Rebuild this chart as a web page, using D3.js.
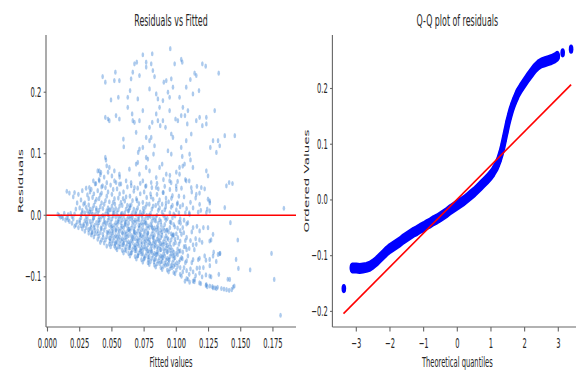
<!DOCTYPE html>
<html>
<head>
<meta charset="utf-8">
<script src="https://cdn.jsdelivr.net/npm/d3@7"></script>
<style>
  html, body { margin: 0; padding: 0; background: #fff; }
  svg { display: block; }
  text { font-family: "DejaVu Sans", sans-serif; fill: #262626; }
</style>
</head>
<body>
<div id="chart"></div>
<script>
// Residuals vs fitted as [fitted, residual]
// dense body of the cloud, roughly column by column
const corePoints = [
  [0.008,0.002],[0.009,0.000],[0.011,-0.002],[0.012,-0.005],[0.013,0.003],[0.010,-0.003],
  [0.014,-0.008],[0.015,-0.004],[0.016,0.001],[0.017,-0.010],[0.015,0.039],[0.017,0.036],[0.016,-0.007],[0.018,0.003],
  [0.019,-0.013],[0.020,-0.006],[0.021,0.002],[0.022,-0.016],[0.020,0.030],[0.021,0.037],[0.022,0.010],[0.019,-0.002],[0.023,-0.011],[0.023,0.020],[0.021,-0.018],
  [0.024,-0.020],[0.025,-0.012],[0.026,-0.004],[0.027,0.004],[0.025,0.012],[0.026,0.025],[0.027,-0.022],[0.024,0.034],[0.028,-0.015],[0.026,0.001],[0.027,0.040],[0.025,-0.008],[0.028,0.018],[0.026,-0.017],[0.027,0.008],
  [0.029,-0.026],[0.030,-0.020],[0.031,-0.014],[0.029,-0.009],[0.030,-0.003],[0.032,0.002],[0.031,0.007],[0.030,0.013],[0.029,0.020],[0.032,0.027],[0.031,0.033],[0.030,0.044],[0.032,-0.029],[0.033,-0.022],[0.033,-0.010],[0.028,-0.017],[0.033,0.010],[0.031,-0.006],[0.032,0.017],[0.029,0.004],[0.033,0.038],
  [0.034,-0.032],[0.035,-0.027],[0.036,-0.020],[0.034,-0.015],[0.035,-0.009],[0.036,-0.004],[0.037,0.001],[0.034,0.005],[0.035,0.011],[0.036,0.016],[0.037,0.022],[0.035,0.029],[0.036,0.035],[0.034,0.042],[0.037,0.051],[0.036,-0.035],[0.037,-0.024],[0.038,-0.012],[0.038,0.008],[0.034,-0.020],[0.037,-0.030],[0.035,0.002],[0.038,0.026],
  [0.039,-0.039],[0.040,-0.034],[0.041,-0.028],[0.042,-0.022],[0.039,-0.017],[0.040,-0.012],[0.041,-0.007],[0.042,-0.002],[0.039,0.003],[0.040,0.008],[0.041,0.014],[0.042,0.020],[0.040,0.027],[0.041,0.033],[0.039,0.040],[0.042,0.046],[0.040,0.058],[0.041,0.066],[0.039,0.072],[0.042,-0.040],[0.043,-0.031],[0.043,-0.015],[0.043,0.000],[0.043,0.011],[0.039,-0.025],[0.041,-0.044],[0.042,0.036],[0.040,-0.003],
  [0.044,-0.045],[0.045,-0.040],[0.046,-0.035],[0.047,-0.029],[0.044,-0.024],[0.045,-0.019],[0.046,-0.013],[0.047,-0.008],[0.044,-0.003],[0.045,0.002],[0.046,0.007],[0.047,0.012],[0.044,0.018],[0.045,0.024],[0.046,0.031],[0.047,0.038],[0.045,0.045],[0.046,0.053],[0.044,0.062],[0.047,0.070],[0.048,-0.047],[0.048,-0.037],[0.048,-0.026],[0.048,-0.016],[0.048,-0.004],[0.048,0.009],[0.048,0.022],[0.046,-0.050],[0.044,-0.010],[0.047,0.001],
  [0.049,-0.051],[0.050,-0.046],[0.051,-0.041],[0.052,-0.036],[0.049,-0.031],[0.050,-0.026],[0.051,-0.021],[0.052,-0.016],[0.049,-0.011],[0.050,-0.006],[0.051,-0.001],[0.052,0.004],[0.049,0.009],[0.050,0.015],[0.051,0.021],[0.052,0.027],[0.050,0.034],[0.051,0.042],[0.049,0.049],[0.052,0.056],[0.050,0.064],[0.053,-0.053],[0.053,-0.044],[0.053,-0.033],[0.053,-0.023],[0.053,-0.012],[0.053,-0.003],[0.053,0.011],[0.049,-0.038],[0.050,-0.017],[0.051,0.003],[0.052,-0.050],[0.051,-0.028],
  [0.054,-0.056],[0.055,-0.051],[0.056,-0.046],[0.057,-0.041],[0.054,-0.036],[0.055,-0.031],[0.056,-0.026],[0.057,-0.021],[0.054,-0.016],[0.055,-0.011],[0.056,-0.006],[0.057,-0.001],[0.054,0.004],[0.055,0.009],[0.056,0.015],[0.057,0.021],[0.055,0.028],[0.056,0.035],[0.054,0.043],[0.057,0.051],[0.058,-0.057],[0.058,-0.048],[0.058,-0.038],[0.058,-0.028],[0.058,-0.018],[0.058,-0.008],[0.058,0.003],[0.058,0.016],[0.054,-0.044],[0.055,-0.023],[0.056,-0.035],[0.057,-0.013],[0.055,-0.002],[0.056,0.062],
  [0.059,-0.061],[0.060,-0.056],[0.061,-0.051],[0.062,-0.046],[0.059,-0.041],[0.060,-0.036],[0.061,-0.031],[0.062,-0.026],[0.059,-0.021],[0.060,-0.016],[0.061,-0.011],[0.062,-0.006],[0.059,-0.001],[0.060,0.004],[0.061,0.010],[0.062,0.016],[0.060,0.023],[0.061,0.030],[0.059,0.038],[0.062,0.046],[0.063,-0.062],[0.063,-0.053],[0.063,-0.043],[0.063,-0.033],[0.063,-0.023],[0.063,-0.013],[0.063,-0.002],[0.063,0.008],[0.059,-0.048],[0.060,-0.028],[0.061,-0.040],[0.062,-0.018],[0.060,-0.008],[0.061,0.056],
  [0.064,-0.066],[0.065,-0.061],[0.066,-0.056],[0.067,-0.051],[0.064,-0.046],[0.065,-0.041],[0.066,-0.036],[0.067,-0.031],[0.064,-0.026],[0.065,-0.021],[0.066,-0.016],[0.067,-0.011],[0.064,-0.006],[0.065,-0.001],[0.066,0.004],[0.067,0.010],[0.065,0.017],[0.066,0.024],[0.064,0.031],[0.067,0.039],[0.065,0.048],[0.068,-0.067],[0.068,-0.058],[0.068,-0.048],[0.068,-0.038],[0.068,-0.028],[0.068,-0.018],[0.068,-0.008],[0.068,0.003],[0.064,-0.053],[0.065,-0.033],[0.066,-0.044],[0.067,-0.023],[0.066,-0.003],[0.064,0.012],
  [0.069,-0.071],[0.070,-0.066],[0.071,-0.061],[0.072,-0.056],[0.069,-0.051],[0.070,-0.046],[0.071,-0.041],[0.072,-0.036],[0.069,-0.031],[0.070,-0.026],[0.071,-0.021],[0.072,-0.016],[0.069,-0.011],[0.070,-0.006],[0.071,-0.001],[0.072,0.005],[0.070,0.012],[0.071,0.019],[0.069,0.027],[0.072,0.035],[0.070,0.044],[0.073,-0.072],[0.073,-0.063],[0.073,-0.053],[0.073,-0.043],[0.073,-0.033],[0.073,-0.023],[0.073,-0.012],[0.073,0.000],[0.069,-0.058],[0.070,-0.038],[0.071,-0.049],[0.072,-0.028],[0.071,-0.008],[0.069,0.008],[0.072,0.052],
  [0.074,-0.076],[0.075,-0.071],[0.076,-0.066],[0.077,-0.061],[0.074,-0.056],[0.075,-0.051],[0.076,-0.046],[0.077,-0.041],[0.074,-0.036],[0.075,-0.031],[0.076,-0.026],[0.077,-0.021],[0.074,-0.016],[0.075,-0.011],[0.076,-0.006],[0.077,0.000],[0.075,0.006],[0.076,0.013],[0.074,0.021],[0.077,0.029],[0.075,0.038],[0.076,0.047],[0.078,-0.077],[0.078,-0.068],[0.078,-0.058],[0.078,-0.048],[0.078,-0.038],[0.078,-0.028],[0.078,-0.017],[0.078,-0.004],[0.074,-0.063],[0.075,-0.043],[0.076,-0.054],[0.077,-0.033],[0.076,-0.013],[0.074,0.003],[0.077,0.018],
  [0.079,-0.080],[0.080,-0.075],[0.081,-0.070],[0.082,-0.065],[0.079,-0.060],[0.080,-0.055],[0.081,-0.050],[0.082,-0.045],[0.079,-0.040],[0.080,-0.035],[0.081,-0.030],[0.082,-0.025],[0.079,-0.020],[0.080,-0.015],[0.081,-0.010],[0.082,-0.004],[0.080,0.003],[0.081,0.010],[0.079,0.018],[0.082,0.026],[0.080,0.035],[0.081,0.045],[0.083,-0.081],[0.083,-0.072],[0.083,-0.062],[0.083,-0.052],[0.083,-0.042],[0.083,-0.032],[0.083,-0.021],[0.083,-0.008],[0.079,-0.067],[0.080,-0.047],[0.081,-0.058],[0.082,-0.037],[0.081,-0.018],[0.079,0.000],[0.082,0.015],
  [0.084,-0.084],[0.085,-0.079],[0.086,-0.074],[0.087,-0.069],[0.084,-0.064],[0.085,-0.059],[0.086,-0.054],[0.087,-0.049],[0.084,-0.044],[0.085,-0.039],[0.086,-0.034],[0.087,-0.029],[0.084,-0.024],[0.085,-0.019],[0.086,-0.013],[0.087,-0.007],[0.085,0.000],[0.086,0.008],[0.084,0.016],[0.087,0.025],[0.085,0.034],[0.086,0.043],[0.088,-0.085],[0.088,-0.076],[0.088,-0.066],[0.088,-0.056],[0.088,-0.046],[0.088,-0.036],[0.088,-0.024],[0.088,-0.010],[0.084,-0.071],[0.085,-0.051],[0.086,-0.062],[0.087,-0.041],[0.086,-0.021],[0.084,-0.003],[0.087,0.012],[0.085,0.052],
  [0.089,-0.088],[0.090,-0.083],[0.091,-0.078],[0.092,-0.073],[0.089,-0.068],[0.090,-0.063],[0.091,-0.058],[0.092,-0.053],[0.089,-0.048],[0.090,-0.043],[0.091,-0.038],[0.092,-0.033],[0.089,-0.027],[0.090,-0.021],[0.091,-0.015],[0.092,-0.008],[0.090,0.000],[0.091,0.009],[0.089,0.018],[0.092,0.028],[0.090,0.037],[0.091,0.047],[0.093,-0.089],[0.093,-0.080],[0.093,-0.070],[0.093,-0.060],[0.093,-0.049],[0.093,-0.037],[0.093,-0.024],[0.093,-0.005],[0.089,-0.075],[0.090,-0.055],[0.091,-0.066],[0.092,-0.045],[0.091,-0.025],[0.089,0.005],[0.092,0.020],[0.090,0.058],
  [0.094,-0.092],[0.095,-0.087],[0.096,-0.082],[0.097,-0.077],[0.094,-0.072],[0.095,-0.067],[0.096,-0.062],[0.097,-0.057],[0.094,-0.052],[0.095,-0.046],[0.096,-0.040],[0.097,-0.034],[0.094,-0.027],[0.095,-0.020],[0.096,-0.012],[0.097,-0.004],[0.095,0.004],[0.096,0.013],[0.094,0.022],[0.097,0.032],[0.095,0.042],[0.096,0.053],[0.098,-0.093],[0.098,-0.083],[0.098,-0.072],[0.098,-0.060],[0.098,-0.047],[0.098,-0.032],[0.098,-0.015],[0.098,0.002],[0.094,-0.079],[0.095,-0.057],[0.097,-0.066],[0.096,-0.030],[0.097,0.016],[0.095,0.065],
  [0.099,-0.095],[0.100,-0.089],[0.101,-0.083],[0.102,-0.076],[0.099,-0.069],[0.100,-0.062],[0.101,-0.055],[0.102,-0.047],[0.099,-0.039],[0.100,-0.030],[0.101,-0.021],[0.102,-0.011],[0.099,-0.001],[0.100,0.009],[0.101,0.020],[0.102,0.031],[0.100,0.042],[0.101,0.055],[0.103,-0.096],[0.103,-0.085],[0.103,-0.072],[0.103,-0.058],[0.103,-0.042],[0.103,-0.025],[0.103,-0.006],[0.103,0.014],[0.099,-0.080],[0.101,-0.064],[0.102,0.004],[0.100,0.070],
  [0.104,-0.099],[0.105,-0.092],[0.106,-0.085],[0.107,-0.077],[0.104,-0.069],[0.105,-0.060],[0.106,-0.051],[0.107,-0.041],[0.104,-0.031],[0.105,-0.020],[0.106,-0.008],[0.107,0.004],[0.105,0.017],[0.106,0.030],[0.104,0.044],[0.107,0.058],[0.108,-0.103],[0.108,-0.090],[0.108,-0.074],[0.108,-0.056],[0.108,-0.036],[0.108,-0.014],[0.108,0.011],[0.105,0.080],
  [0.109,-0.104],[0.110,-0.096],[0.111,-0.087],[0.112,-0.077],[0.109,-0.066],[0.110,-0.054],[0.111,-0.041],[0.112,-0.027],[0.109,-0.012],[0.110,0.004],[0.111,0.021],[0.112,0.038],[0.110,0.056],[0.113,-0.107],[0.113,-0.092],[0.113,-0.072],[0.113,-0.048],[0.113,-0.020],[0.113,0.012],[0.111,0.090],
  [0.114,-0.108],[0.115,-0.098],[0.116,-0.086],[0.117,-0.072],[0.114,-0.056],[0.115,-0.038],[0.116,-0.018],[0.117,0.005],[0.115,0.028],[0.116,0.047],[0.118,-0.110],[0.118,-0.094],[0.118,-0.070],[0.118,-0.040],[0.118,0.036],
  [0.119,-0.111],[0.120,-0.100],[0.121,-0.085],[0.122,-0.066],[0.120,-0.044],[0.121,-0.020],[0.119,0.008],[0.122,0.043],[0.123,-0.114],[0.123,-0.097],[0.123,-0.073],[0.124,0.010],
  [0.124,-0.116],[0.126,-0.115],[0.127,-0.100],[0.128,-0.116],[0.126,-0.082],[0.129,-0.060],[0.127,-0.040],[0.126,0.020],[0.130,-0.118],[0.132,-0.117],[0.133,-0.096],[0.131,-0.075],[0.134,-0.062],[0.135,-0.119],[0.137,-0.120],[0.139,-0.121],[0.141,-0.122],[0.143,-0.121],[0.140,-0.104],[0.145,-0.115]
];

// extra points where the cloud is darkest (below the zero line)
const darkestPoints = [
  [0.0415,-0.0205],[0.0433,-0.0362],[0.0447,-0.0118],[0.0462,-0.0274],[0.0471,0.0046],[0.0486,-0.0421],[0.0494,-0.0193],[0.0503,-0.0337],
  [0.0512,0.0087],[0.0525,-0.0462],[0.0531,-0.0248],[0.0546,-0.0093],[0.0551,-0.0389],[0.0563,-0.0517],[0.0572,0.0024],[0.0584,-0.0296],
  [0.0592,-0.0451],[0.0603,-0.0142],[0.0611,-0.0578],[0.0618,-0.0345],[0.0627,0.0068],[0.0634,-0.0223],[0.0642,-0.0489],[0.0651,-0.0611],
  [0.0657,-0.0087],[0.0664,-0.0378],[0.0673,-0.0262],[0.0681,-0.0539],[0.0688,0.0015],[0.0695,-0.0419],[0.0702,-0.0655],[0.0709,-0.0164],
  [0.0716,-0.0312],[0.0724,-0.0588],[0.0731,-0.0472],[0.0737,-0.0051],[0.0745,-0.0236],[0.0752,-0.0693],[0.0758,-0.0384],[0.0766,-0.0127],
  [0.0771,-0.0541],[0.0779,-0.0297],[0.0786,-0.0729],[0.0792,-0.0445],[0.0799,-0.0018],[0.0806,-0.0603],[0.0813,-0.0206],[0.0821,-0.0352],
  [0.0827,-0.0756],[0.0834,-0.0488],[0.0841,-0.0093],[0.0848,-0.0637],[0.0855,-0.0271],[0.0862,-0.0412],[0.0869,-0.0782],[0.0876,-0.0559],
  [0.0883,-0.0163],[0.0889,-0.0327],[0.0896,-0.0694],[0.0903,-0.0471],[0.0911,-0.0038],[0.0917,-0.0812],[0.0924,-0.0245],[0.0931,-0.0586],
  [0.0938,-0.0391],[0.0946,-0.0729],[0.0952,-0.0109],[0.0959,-0.0522],[0.0966,-0.0851],[0.0973,-0.0317],[0.0981,-0.0654],[0.0988,-0.0188],
  [0.0994,-0.0447],[0.1003,-0.0772],[0.1012,-0.0364],[0.1021,-0.0585],[0.1033,-0.0129],[0.1047,-0.0705],[0.1058,-0.0283],[0.1072,-0.0506],
  [0.0302,-0.0118],[0.0318,-0.0231],[0.0327,0.0052],[0.0344,-0.0283],[0.0356,-0.0047],[0.0365,-0.0162],[0.0379,0.0113],[0.0388,-0.0301],
  [0.0396,-0.0084],[0.0523,0.0184],[0.0587,0.0271],[0.0638,0.0153],[0.0695,0.0238],[0.0743,0.0112],[0.0804,0.0297],[0.0859,0.0194],
  [0.0918,0.0135],[0.0962,0.0276],[0.1006,0.0182]
];

// scattered points above the body
const upperPoints = [
  [0.0953,0.2707],[0.0813,0.2625],[0.0740,0.2609],[0.0675,0.2462],[0.0693,0.2489],[0.0766,0.2489],[0.0805,0.2462],[0.0987,0.2462],
  [0.1038,0.2533],[0.1046,0.2489],[0.1202,0.2462],[0.1228,0.2424],[0.1329,0.2310],[0.0766,0.2408],[0.0818,0.2353],[0.0662,0.2326],
  [0.0714,0.2272],[0.0831,0.2255],[0.0428,0.2255],[0.0449,0.2163],[0.0527,0.2326],[0.0519,0.2190],[0.0558,0.2190],[0.0649,0.2217],
  [0.0922,0.2190],[0.0903,0.2163],[0.0961,0.2217],[0.1142,0.2310],[0.1155,0.2272],[0.1109,0.2207],[0.1176,0.2027],[0.1129,0.1973],
  [0.1077,0.2082],[0.0974,0.2082],[0.1025,0.1918],[0.0844,0.1973],[0.0857,0.1891],[0.0896,0.1864],[0.0792,0.2054],[0.0641,0.2027],
  [0.0623,0.1918],[0.0701,0.1891],[0.0740,0.1701],[0.0493,0.1875],[0.0550,0.1918],[0.0935,0.2000],[0.0948,0.1918],[0.0870,0.1755],
  [0.0948,0.1701],[0.1051,0.1755],[0.1038,0.1620],[0.1090,0.1701],[0.1181,0.1592],[0.1233,0.1484],[0.1298,0.1701],[0.0623,0.1755],
  [0.0657,0.1647],[0.0662,0.1538],[0.0675,0.1511],[0.0558,0.1565],[0.0449,0.1592],[0.0470,0.1565],[0.0480,0.1538],[0.0532,0.1620],
  [0.0844,0.1647],[0.0857,0.1538],[0.0875,0.1457],[0.0792,0.1429],[0.0813,0.1511],[0.0714,0.1538],[0.0688,0.1348],[0.0766,0.1266],
  [0.0792,0.1212],[0.0805,0.1266],[0.0896,0.1538],[0.0916,0.1429],[0.0994,0.1565],[0.1012,0.1538],[0.1155,0.1538],[0.1202,0.1457],
  [0.1233,0.1592],[0.1085,0.1484],[0.1067,0.1620],[0.1116,0.1321],[0.0961,0.1321],[0.0974,0.1266],[0.1285,0.1212],[0.1264,0.1103],
  [0.1324,0.1212],[0.1337,0.1130],[0.1311,0.1022],[0.1376,0.1293],[0.1454,0.1293],[0.1077,0.1212],[0.1038,0.1103],[0.0935,0.1049],
  [0.0831,0.1130],[0.0823,0.0995],[0.0740,0.1103],[0.0714,0.1076],[0.0589,0.1239],[0.0592,0.1114],[0.0704,0.1022],[0.0766,0.0940],
  [0.0779,0.0913],[0.0961,0.0995],[0.1046,0.0957],[0.1103,0.0995],[0.1233,0.0723],[0.1246,0.0641],[0.0890,0.0832],[0.0701,0.0859],
  [0.0688,0.0832],[0.0449,0.0940],[0.0454,0.0897],[0.0480,0.0777],[0.0402,0.0723],[0.0415,0.0696],[0.0460,0.0804],[0.0519,0.0723],
  [0.0558,0.0668],[0.0636,0.0750],[0.0532,0.0533],[0.0558,0.0505],[0.0356,0.0560],[0.0376,0.0516],[0.0766,0.0777],[0.1025,0.0777],
  [0.1064,0.0832],[0.1025,0.0668],[0.1129,0.0777],[0.0714,0.0668],[0.0740,0.0560],[0.0792,0.0723],[0.0844,0.0614],[0.0870,0.0777],
  [0.0922,0.0668],[0.0948,0.0560],[0.0999,0.0478],[0.0805,0.0533],[0.0649,0.0533],[0.0675,0.0451],[0.0766,0.0478],[0.0844,0.0451],
  [0.0896,0.0370],[0.0402,0.0560],[0.0428,0.0478],[0.0325,0.0451],[0.1077,0.0560],[0.1116,0.0451],[0.1155,0.0342],[0.1194,0.0451]
];

// loose points on the right side of the cloud
const rightPoints = [
  [0.1410,0.0533],[0.1436,0.0516],[0.1389,0.0478],[0.1376,0.0125],[0.1420,-0.0120],[0.1477,-0.0402],[0.1464,-0.0717],[0.1482,-0.0864],
  [0.1573,-0.0886],[0.1415,-0.1043],[0.1441,-0.1168],[0.1739,-0.0620],[0.1760,-0.1043],[0.1835,0.0114],[0.1809,-0.1625],[0.1285,-0.1179],
  [0.1311,-0.1190],[0.1233,-0.1125],[0.1259,-0.0989],[0.1324,-0.0636],[0.1337,-0.0625],[0.1259,-0.0717],[0.1285,-0.0663],[0.1181,-0.0853],
  [0.1142,-0.1043],[0.1103,-0.1087],[0.1067,-0.1071],[0.1259,-0.0418],[0.1285,-0.0310],[0.1246,-0.0201],[0.1181,-0.0255],[0.1155,-0.0473],
  [0.1259,0.0071],[0.1233,0.0043],[0.1246,0.0261],[0.1259,0.0234],[0.1103,0.0016],[0.1181,0.0179]
];

// Q-Q plot, sorted residuals against normal quantiles
const qqTheoretical = [-3.37,-3.12,-3.00,-2.90,-2.80,-2.70,-2.60,-2.50,-2.40,-2.30,-2.20,-2.10,-2.00,-1.90,-1.80,-1.70,-1.60,-1.50,-1.40,-1.30,-1.20,-1.10,-1.00,-0.90,-0.80,-0.70,-0.60,-0.50,-0.40,-0.30,-0.20,-0.10,0.00,0.10,0.20,0.30,0.40,0.50,0.60,0.70,0.80,0.90,1.00,1.05,1.10,1.15,1.20,1.25,1.30,1.35,1.40,1.45,1.50,1.55,1.60,1.65,1.70,1.75,1.80,1.90,2.00,2.10,2.20,2.30,2.40,2.50,2.60,2.70,2.80,2.90,2.97,3.13,3.38];
const qqOrdered = [-0.159,-0.122,-0.122,-0.123,-0.122,-0.121,-0.119,-0.115,-0.110,-0.104,-0.098,-0.092,-0.087,-0.083,-0.079,-0.075,-0.070,-0.066,-0.062,-0.058,-0.055,-0.051,-0.048,-0.044,-0.041,-0.037,-0.034,-0.030,-0.026,-0.022,-0.017,-0.013,-0.009,-0.005,-0.001,0.004,0.009,0.014,0.020,0.026,0.032,0.038,0.045,0.049,0.054,0.059,0.066,0.074,0.084,0.096,0.110,0.124,0.138,0.150,0.161,0.170,0.178,0.185,0.192,0.202,0.211,0.220,0.228,0.236,0.242,0.246,0.248,0.250,0.252,0.255,0.258,0.264,0.2705];
const qqLineX = [-3.38, 3.38];
const qqLineY = [-0.204, 0.207];

const fittedTicks = [0, 0.025, 0.05, 0.075, 0.1, 0.125, 0.15, 0.175];
const residualTicks = [-0.1, 0, 0.1, 0.2];
const quantileTicks = [-3, -2, -1, 0, 1, 2, 3];
const orderedTicks = [-0.2, -0.1, 0, 0.1, 0.2];

// the reference picture is squeezed to half its width, so draw at full width and scale
const SX = 0.5;
const width = 576, height = 370;
const plotTop = 35, plotBottom = 327;

const svg = d3.select("#chart").append("svg")
    .attr("width", width)
    .attr("height", height);

const g = svg.append("g").attr("transform", `scale(${SX},1)`);

function styleAxis(sel) {
    sel.attr("font-size", null).attr("font-family", null);
    sel.selectAll("path.domain, .tick line")
        .attr("stroke", "#666")
        .attr("stroke-width", 1.1)
        .attr("vector-effect", "non-scaling-stroke");
    sel.selectAll(".tick text").style("font-size", "13.5px").attr("fill", "#262626");
}

// ---------- left panel: residuals vs fitted ----------
const x1 = d3.scaleLinear().domain([-0.00116, 0.1929]).range([92, 592]);
const y1 = d3.scaleLinear().domain([-0.1816, 0.293]).range([plotBottom, plotTop]);

const allPoints = corePoints.concat(darkestPoints, upperPoints, rightPoints);

g.append("g").selectAll("circle")
    .data(allPoints)
    .enter().append("circle")
    .attr("cx", d => x1(d[0]))
    .attr("cy", d => y1(d[1]))
    .attr("r", 2.6)
    .attr("fill", "#3a80d4")
    .attr("fill-opacity", 0.42);

g.append("line")
    .attr("x1", x1.range()[0]).attr("x2", x1.range()[1])
    .attr("y1", y1(0)).attr("y2", y1(0))
    .attr("stroke", "red")
    .attr("stroke-width", 1.6)
    .attr("vector-effect", "non-scaling-stroke");

g.append("g")
    .attr("transform", `translate(0,${plotBottom})`)
    .call(d3.axisBottom(x1).tickValues(fittedTicks).tickFormat(d3.format(".3f"))
        .tickSize(4.5).tickPadding(7.4).tickSizeOuter(0).offset(0))
    .call(styleAxis);

g.append("g")
    .attr("transform", `translate(${x1.range()[0]},0)`)
    .call(d3.axisLeft(y1).tickValues(residualTicks).tickFormat(d3.format(".1f"))
        .tickSize(4.7).tickPadding(4.7).tickSizeOuter(0).offset(0))
    .call(styleAxis);

g.append("text")
    .attr("x", (x1.range()[0] + x1.range()[1]) / 2)
    .attr("y", 26.5)
    .attr("text-anchor", "middle")
    .style("font-size", "15.8px")
    .text("Residuals vs Fitted");

g.append("text")
    .attr("x", (x1.range()[0] + x1.range()[1]) / 2)
    .attr("y", 367.5)
    .attr("text-anchor", "middle")
    .style("font-size", "13.5px")
    .text("Fitted values");

g.append("text")
    .attr("transform", `translate(46,${(plotTop + plotBottom) / 2}) rotate(-90)`)
    .attr("text-anchor", "middle")
    .style("font-size", "13.5px")
    .text("Residuals");

// ---------- right panel: Q-Q plot ----------
const x2 = d3.scaleLinear().domain([-3.71, 3.71]).range([664.8, 1164.4]);
const y2 = d3.scaleLinear().domain([-0.228, 0.296]).range([plotBottom, plotTop]);

const qq = qqTheoretical.map((t, i) => [t, qqOrdered[i]]);

// neighbouring markers overlap into a band; join the close ones
const runs = [];
let run = [qq[0]];
for (let i = 1; i < qq.length; i++) {
    if (qq[i][0] - qq[i - 1][0] < 0.15) {
        run.push(qq[i]);
    } else {
        runs.push(run);
        run = [qq[i]];
    }
}
runs.push(run);

const qqR = 4.6;
const band = d3.line().x(d => x2(d[0])).y(d => y2(d[1]));

g.append("g").selectAll("path")
    .data(runs.filter(r => r.length > 1))
    .enter().append("path")
    .attr("d", band)
    .attr("fill", "none")
    .attr("stroke", "#0000ff")
    .attr("stroke-width", 11)
    .attr("stroke-linecap", "round")
    .attr("stroke-linejoin", "round");

g.append("g").selectAll("circle")
    .data(qq)
    .enter().append("circle")
    .attr("cx", d => x2(d[0]))
    .attr("cy", d => y2(d[1]))
    .attr("r", qqR)
    .attr("fill", "#0000ff");

g.append("line")
    .attr("x1", x2(qqLineX[0])).attr("y1", y2(qqLineY[0]))
    .attr("x2", x2(qqLineX[1])).attr("y2", y2(qqLineY[1]))
    .attr("stroke", "red")
    .attr("stroke-width", 1.6)
    .attr("vector-effect", "non-scaling-stroke");

g.append("g")
    .attr("transform", `translate(0,${plotBottom})`)
    .call(d3.axisBottom(x2).tickValues(quantileTicks).tickFormat(d3.format("d"))
        .tickSize(4.5).tickPadding(7.4).tickSizeOuter(0).offset(0))
    .call(styleAxis);

g.append("g")
    .attr("transform", `translate(${x2.range()[0]},0)`)
    .call(d3.axisLeft(y2).tickValues(orderedTicks).tickFormat(d3.format(".1f"))
        .tickSize(4.7).tickPadding(4.7).tickSizeOuter(0).offset(0))
    .call(styleAxis);

g.append("text")
    .attr("x", (x2.range()[0] + x2.range()[1]) / 2)
    .attr("y", 26.5)
    .attr("text-anchor", "middle")
    .style("font-size", "15.8px")
    .text("Q-Q plot of residuals");

g.append("text")
    .attr("x", (x2.range()[0] + x2.range()[1]) / 2)
    .attr("y", 367.5)
    .attr("text-anchor", "middle")
    .style("font-size", "13.5px")
    .text("Theoretical quantiles");

g.append("text")
    .attr("transform", `translate(617,${(plotTop + plotBottom) / 2}) rotate(-90)`)
    .attr("text-anchor", "middle")
    .style("font-size", "13.5px")
    .text("Ordered Values");
</script>
</body>
</html>
